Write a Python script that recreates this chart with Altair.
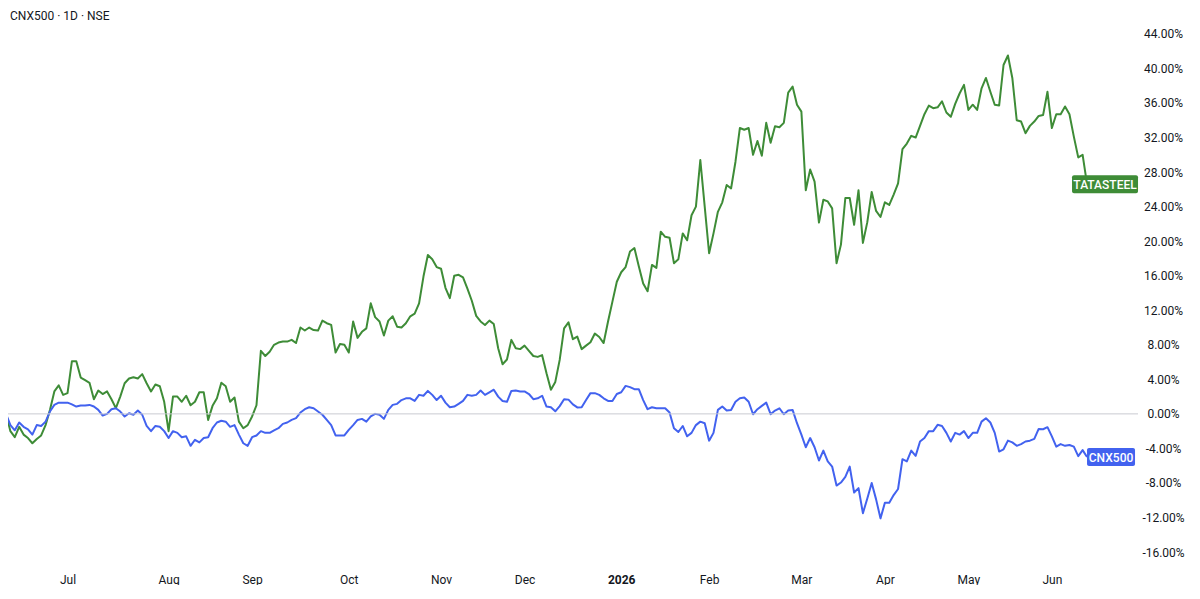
import altair as alt
import pandas as pd

# % change from the first bar, one value per trading day
tata = [
    0.0, -2.0, -2.7, -1.5, -2.4, -2.8, -3.4, -2.9, -2.5, -1.3,
    0.46, 2.6, 3.3, 2.2, 2.4, 6.1, 6.1, 4.2, 3.9, 3.6,
    1.7, 2.7, 2.3, 2.6, 1.7, 0.66, 2.0, 3.55, 4.1, 4.25,
    4.1, 4.6, 3.55, 2.6, 3.4, 3.2, 1.4, -2.0, 2.0, 2.0,
    1.4, 2.1, 1.0, 1.4, 2.5, 2.5, -0.7, 0.93, 1.8, 3.6,
    3.2, 1.4, 1.9, -0.9, -1.66, -1.3, -0.3, 1.0, 7.3, 6.7,
    7.2, 8.0, 8.26, 8.37, 8.37, 8.57, 8.2, 10.0, 9.65, 10.0,
    9.7, 9.65, 10.8, 10.5, 10.3, 7.1, 8.1, 8.0, 7.1, 10.7,
    8.8, 9.5, 9.9, 12.8, 11.2, 10.7, 9.07, 10.8, 11.3, 10.1,
    10.0, 10.5, 11.3, 11.6, 12.8, 15.9, 18.4, 17.9, 17.0, 16.8,
    14.6, 13.4, 16.0, 16.1, 15.8, 14.5, 13.1, 11.35, 10.7, 10.3,
    10.8, 10.4, 7.6, 5.75, 6.3, 8.57, 7.6, 7.5, 7.9, 7.3,
    6.7, 6.6, 6.8, 4.7, 2.8, 3.7, 6.25, 9.9, 10.6, 8.65,
    8.95, 7.5, 7.9, 8.3, 9.3, 8.9, 8.2, 10.7, 13.0, 15.3,
    16.4, 17.0, 18.8, 19.2, 17.1, 15.1, 14.2, 17.25, 16.9, 21.1,
    20.5, 20.4, 17.45, 17.9, 20.9, 20.1, 23.0, 24.0, 29.4, 24.0,
    18.6, 20.9, 23.4, 24.5, 26.5, 26.1, 29.2, 33.1, 32.9, 33.1,
    30.0, 31.6, 29.9, 33.7, 31.4, 33.3, 33.2, 33.7, 37.2, 37.9,
    35.8, 35.0, 25.9, 28.3, 26.9, 22.15, 24.8, 24.6, 23.8, 17.45,
    19.6, 25.0, 25.0, 21.9, 25.9, 19.8, 22.2, 25.7, 23.5, 22.8,
    24.5, 24.2, 25.4, 26.7, 30.65, 31.3, 32.2, 32.0, 33.35, 34.7,
    35.7, 35.4, 35.5, 36.2, 34.9, 34.4, 35.9, 37.1, 38.1, 35.2,
    35.8, 35.2, 37.7, 38.9, 37.3, 35.8, 35.7, 40.4, 41.5, 38.9,
    34.0, 33.85, 32.5, 33.35, 33.85, 34.5, 34.6, 37.3, 33.1, 34.7,
    34.7, 35.6, 34.7, 32.1, 29.7, 30.0, 26.6,
]

cnx = [
    0.0, -1.3, -1.9, -1.0, -1.5, -1.8, -2.4, -1.3, -1.4, -0.9,
    0.27, 1.04, 1.3, 1.3, 1.3, 1.1, 0.85, 0.96, 0.96, 1.04,
    0.85, 0.46, -0.19, 0.0, 0.54, 0.65, 0.27, -0.3, 0.08, -0.1,
    0.38, -0.1, -1.4, -2.0, -1.4, -1.5, -2.0, -2.8, -2.0, -2.2,
    -2.7, -2.6, -3.7, -3.0, -3.3, -2.8, -2.7, -1.66, -1.0, -0.8,
    -0.9, -1.5, -1.3, -2.4, -3.4, -3.7, -2.7, -2.5, -2.0, -2.2,
    -2.2, -1.9, -1.66, -1.16, -1.0, -0.7, -0.5, 0.15, 0.54, 0.77,
    0.65, 0.27, -0.1, -0.7, -1.3, -2.5, -2.5, -2.5, -1.85, -1.3,
    -0.7, -0.58, -0.9, -0.3, 0.0, -0.1, -0.58, 0.46, 1.04, 1.16,
    1.6, 1.8, 1.8, 1.5, 2.2, 2.1, 2.66, 2.2, 1.6, 2.1,
    1.3, 0.77, 0.85, 1.16, 1.5, 2.2, 2.1, 2.2, 2.7, 2.2,
    2.5, 2.8, 2.0, 1.5, 1.4, 2.66, 2.7, 2.6, 2.6, 2.3,
    1.7, 1.8, 2.1, 0.85, 0.77, 0.3, 0.9, 1.7, 1.65, 1.1,
    0.75, 0.77, 1.6, 2.4, 2.4, 2.2, 1.8, 1.5, 1.5, 2.3,
    2.5, 3.24, 3.1, 2.86, 2.86, 1.6, 0.54, 0.77, 0.65, 0.66,
    0.66, 0.15, -1.66, -2.1, -1.4, -2.6, -2.2, -1.3, -0.9, -1.08,
    -3.1, -2.2, 0.46, 0.85, 0.38, 0.46, 1.4, 1.8, 1.9, 1.4,
    -0.04, 0.54, 0.93, 1.3, -0.04, 0.38, 0.65, -0.04, 0.38, 0.46,
    -1.08, -2.4, -3.86, -2.8, -3.86, -5.4, -4.25, -5.5, -6.1, -8.3,
    -7.95, -7.3, -6.1, -9.1, -8.6, -11.5, -9.8, -8.0, -9.9, -12.1,
    -10.3, -10.3, -9.4, -8.7, -5.25, -5.5, -4.25, -4.86, -3.2, -2.8,
    -2.0, -2.0, -1.27, -1.4, -2.2, -3.2, -2.2, -2.4, -2.0, -2.8,
    -2.2, -2.2, -0.9, -0.5, -1.0, -2.2, -4.36, -4.1, -3.1, -3.3,
    -3.7, -3.5, -3.2, -3.1, -2.9, -1.74, -1.78, -1.54, -2.6, -3.8,
    -3.5, -3.7, -3.6, -3.8, -4.9, -4.2, -5.0,
]

symbols = ["TATASTEEL", "CNX500"]
colors = ["#3e8c37", "#4262ef"]

# first trading day of each month (bar number) and its label
month_bars = [14, 37, 56, 78, 99, 118, 140, 160, 181, 200, 219, 238]
month_labels = ["Jul", "Aug", "Sep", "Oct", "Nov", "Dec", "2026", "Feb", "Mar", "Apr", "May", "Jun"]
y_ticks = list(range(-16, 45, 4))

n = len(tata)
df = pd.DataFrame({
    "bar": list(range(n)) * 2,
    "pct": tata + cnx,
    "sym": ["TATASTEEL"] * n + ["CNX500"] * n,
})

FONT = "Roboto"
TXT = "#131722"

xscale = alt.Scale(domain=[0, 257.6], nice=False, zero=False)
yscale = alt.Scale(domain=[-17.5, 47.0], nice=False, zero=False)

lab_js = "[" + ",".join("'%s'" % m for m in month_labels) + "]"
idx_js = "[" + ",".join(str(b) for b in month_bars) + "]"

xaxis = alt.Axis(
    values=month_bars,
    labelExpr=f"{lab_js}[indexof({idx_js}, datum.value)]",
    grid=False, domain=False, ticks=False,
    labelFont=FONT, labelFontSize=12, labelColor=TXT,
    labelPadding=9, labelFlush=False, labelOverlap=False,
    labelFontWeight={"condition": {"test": "datum.value == 140", "value": "bold"}, "value": "normal"},
    title=None,
)
yaxis = alt.Axis(
    orient="right", values=y_ticks,
    labelExpr="replace(format(datum.value, '.2f'), '\u2212', '-') + '%'",
    grid=False, domain=False, ticks=False,
    labelFont=FONT, labelFontSize=12, labelColor=TXT,
    labelAlign="center", labelPadding=25, labelOverlap=False,
    labelSeparation=0,
    title=None,
)

X = alt.X("bar:Q", scale=xscale, axis=xaxis)
Y = alt.Y("pct:Q", scale=yscale, axis=yaxis)

zero = alt.Chart(pd.DataFrame({"pct": [0]})).mark_rule(color="#c9cbd1", strokeWidth=1).encode(
    y=Y
)

lines = alt.Chart(df).mark_line(strokeWidth=2, strokeJoin="round").encode(
    x=X,
    y=Y,
    color=alt.Color("sym:N", scale=alt.Scale(domain=symbols, range=colors), legend=None),
    order=alt.Order("bar:Q"),
    detail="sym:N",
)

def end_label(name, values, color, left, right):
    d = pd.DataFrame({"bar": [len(values) - 1], "pct": [values[-1]], "sym": [name]})
    base = alt.Chart(d)
    box = base.mark_rect(color=color, cornerRadius=2, xOffset=left, x2Offset=right,
                         yOffset=-9, y2Offset=9).encode(
        x=X, x2="bar:Q", y=Y, y2="pct:Q",
    )
    txt = base.mark_text(color="white", font=FONT, fontSize=12, fontWeight=500,
                         align="center", baseline="middle", dx=(left + right) / 2, dy=0.5).encode(
        x=X, y=Y, text="sym:N"
    )
    return box + txt

lab_tata = end_label("TATASTEEL", tata, colors[0], -15, 51)
lab_cnx = end_label("CNX500", cnx, colors[1], 0, 48)

title = alt.Chart(pd.DataFrame({"t": ["CNX500 · 1D · NSE"]})).mark_text(
    font=FONT, fontSize=12, color=TXT, align="left", baseline="middle"
).encode(x=alt.value(4), y=alt.value(8), text="t:N")

chart = alt.layer(lines, zero, lab_tata, lab_cnx, title).properties(
    width=1132, height=557,
    padding={"left": -3, "top": 0, "right": 0, "bottom": 0},
    background="white",
).configure_view(stroke=None).configure_axisY(labelOverlap=False, labelSeparation=0)

chart.save("out.html", embed_options={"renderer": "svg", "actions": False})
